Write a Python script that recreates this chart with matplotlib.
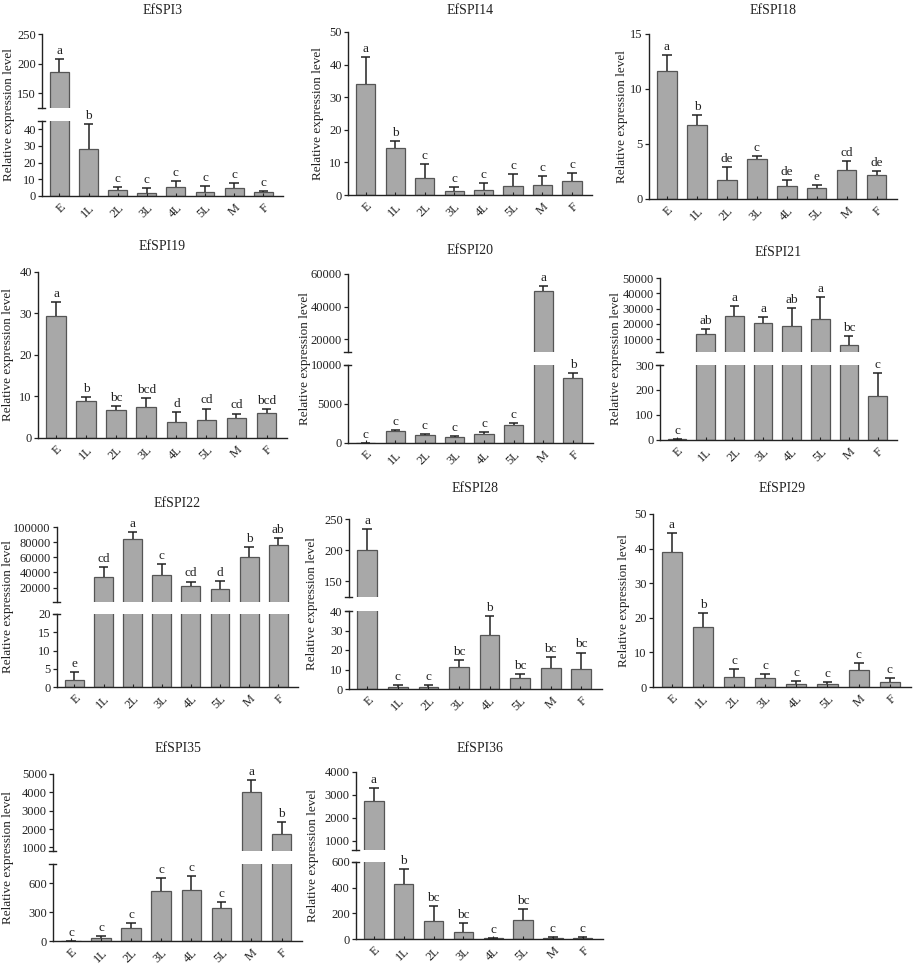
import matplotlib.pyplot as plt
import numpy as np

plt.rcParams['font.family'] = ['Liberation Serif', 'DejaVu Serif']

stages = ['E', '1L', '2L', '3L', '4L', '5L', 'M', 'F']

# mean, upper error, significance letters per gene
spi3_mean = [186, 28, 3.4, 1.8, 5.2, 2.4, 4.6, 2.2]
spi3_err = [22, 15, 1.8, 3.0, 3.6, 3.8, 3.0, 1.0]
spi3_sig = ['a', 'b', 'c', 'c', 'c', 'c', 'c', 'c']

spi14_mean = [34.0, 14.5, 5.1, 1.2, 1.5, 2.8, 3.0, 4.3]
spi14_err = [8.3, 2.1, 4.4, 1.3, 2.3, 3.6, 2.8, 2.5]
spi14_sig = ['a', 'b', 'c', 'c', 'c', 'c', 'c', 'c']

spi18_mean = [11.67, 6.7, 1.7, 3.6, 1.2, 0.97, 2.6, 2.2]
spi18_err = [1.43, 0.9, 1.2, 0.3, 0.55, 0.33, 0.85, 0.3]
spi18_sig = ['a', 'b', 'de', 'c', 'de', 'e', 'cd', 'de']

spi19_mean = [29.5, 9.0, 6.75, 7.5, 3.8, 4.4, 4.8, 6.0]
spi19_err = [3.3, 0.8, 0.95, 2.1, 2.4, 2.7, 1.1, 0.9]
spi19_sig = ['a', 'b', 'bc', 'bcd', 'd', 'cd', 'cd', 'bcd']

spi20_mean = [20, 1490, 1020, 766, 1150, 2340, 49280, 8380]
spi20_err = [5, 170, 130, 174, 210, 170, 3520, 640]
spi20_sig = ['c', 'c', 'c', 'c', 'c', 'c', 'a', 'b']

spi21_mean = [2, 13480, 25200, 20200, 18300, 23300, 5870, 176]
spi21_err = [2, 2820, 6300, 4400, 11900, 14100, 5830, 91]
spi21_sig = ['c', 'ab', 'a', 'a', 'ab', 'a', 'bc', 'c']

spi22_mean = [1.8, 34200, 84000, 37300, 22700, 18700, 60000, 76000]
spi22_err = [2.3, 13400, 9800, 13400, 5300, 10200, 13800, 9800]
spi22_sig = ['e', 'cd', 'a', 'c', 'cd', 'd', 'b', 'ab']

spi28_mean = [201, 0.85, 1.0, 11.4, 27.6, 5.4, 10.6, 10.4]
spi28_err = [33, 1.05, 0.9, 3.4, 9.8, 2.3, 5.9, 8.3]
spi28_sig = ['a', 'c', 'c', 'bc', 'b', 'bc', 'bc', 'bc']

spi29_mean = [38.9, 17.4, 2.9, 2.6, 0.96, 0.87, 5.0, 1.35]
spi29_err = [5.6, 4.1, 2.3, 1.25, 0.84, 0.48, 1.9, 1.35]
spi29_sig = ['a', 'b', 'c', 'c', 'c', 'c', 'c', 'c']

spi35_mean = [2, 31, 130, 518, 535, 343, 4018, 1709]
spi35_err = [1, 17, 59, 133, 140, 65, 655, 673]
spi35_sig = ['c', 'c', 'c', 'c', 'c', 'c', 'a', 'b']

spi36_mean = [2742, 426, 140, 55, 5, 148, 10, 9]
spi36_err = [571, 122, 115, 67, 3, 83, 4, 4]
spi36_sig = ['a', 'b', 'bc', 'bc', 'c', 'bc', 'c', 'c']

W, H = 913, 964
fig = plt.figure(figsize=(W / 100, H / 100), dpi=100)

TICK_FS = 9
BAR_COLOR = '#a8a8a8'
EDGE_COLOR = '#555555'
INK = '#222222'


def box(x0, x1, top, bottom):
    return [x0 / W, 1 - bottom / H, (x1 - x0) / W, (bottom - top) / H]


def draw_bars(ax, mean, err, ymin, ymax):
    mean = np.asarray(mean, float)
    err = np.asarray(err, float)
    x = np.arange(len(mean))
    keep = mean > ymin
    ax.bar(x[keep], mean[keep], width=0.65, color=BAR_COLOR,
           edgecolor=EDGE_COLOR, linewidth=0.9)
    cap = mean + err
    show = (cap > ymin) & (mean < ymax)
    ax.vlines(x[show], mean[show], cap[show], color=INK, lw=1.1)
    capped = show & (cap <= ymax)
    ax.hlines(cap[capped], x[capped] - 0.16, x[capped] + 0.16, color=INK, lw=1.1)
    ax.set_xlim(-0.6, 7.68)
    for s in ['top', 'right']:
        ax.spines[s].set_visible(False)
    for s in ['left', 'bottom']:
        ax.spines[s].set_linewidth(1.0)
        ax.spines[s].set_color(INK)
    ax.tick_params(axis='y', direction='out', length=3, width=0.9,
                   labelsize=TICK_FS, pad=1.5, colors=INK)


def break_mark(ax, where, px_width):
    d = 4.5 / px_width
    ax.plot([-d, d * 0.7], [where, where], transform=ax.transAxes,
            color=INK, lw=1.0, clip_on=False)


def panel(title, mean, err, sig, xr, title_y, label_x, lower, upper=None):
    x0, x1 = xr
    lt, lb, lmax, lticks = lower
    ax = fig.add_axes(box(x0, x1, lt, lb))
    draw_bars(ax, mean, err, 0, lmax)
    ax.set_ylim(0, lmax)
    ax.set_yticks(lticks)
    ax.set_xticks(np.arange(len(stages)))
    ax.set_xticklabels(stages, rotation=45, ha='right', rotation_mode='anchor',
                       fontsize=TICK_FS)
    ax.tick_params(axis='x', direction='in', length=2.5, width=0.8, pad=4,
                   colors=INK)
    top_px = lt
    axu = None
    if upper is not None:
        ut, ub, umin, umax, uticks = upper
        axu = fig.add_axes(box(x0, x1, ut, ub))
        draw_bars(axu, mean, err, umin, umax)
        axu.set_ylim(umin, umax)
        axu.set_yticks(uticks)
        axu.set_xticks([])
        axu.spines['bottom'].set_visible(False)
        break_mark(ax, 1, x1 - x0)
        break_mark(axu, 0, x1 - x0)
        top_px = ut
    for i, s in enumerate(sig):
        cap = mean[i] + err[i]
        target = axu if (axu is not None and cap > lmax) else ax
        target.annotate(s, (i, cap), xytext=(0, 1.5), textcoords='offset points',
                        ha='center', va='bottom', fontsize=9.5, color=INK)
    fig.text((x0 + x1) / 2 / W, 1 - title_y / H, title, ha='center', va='center',
             fontsize=10, color=INK)
    fig.text(label_x / W, 1 - (top_px + lb) / 2 / H, 'Relative expression level',
             rotation=90, ha='center', va='center', fontsize=9.5, color=INK)


panel('EfSPI3', spi3_mean, spi3_err, spi3_sig, (42, 283), 10, 9,
      (121, 196, 45, [0, 10, 20, 30, 40]), (34, 108, 125, 250, [150, 200, 250]))
panel('EfSPI14', spi14_mean, spi14_err, spi14_sig, (348, 592), 10, 318,
      (32, 195, 50, [0, 10, 20, 30, 40, 50]))
panel('EfSPI18', spi18_mean, spi18_err, spi18_sig, (649, 897), 10, 622,
      (34, 199, 15, [0, 5, 10, 15]))

panel('EfSPI19', spi19_mean, spi19_err, spi19_sig, (38, 287), 247, 8,
      (272, 438, 40, [0, 10, 20, 30, 40]))
panel('EfSPI20', spi20_mean, spi20_err, spi20_sig, (348, 593), 251, 305,
      (365, 443, 10000, [0, 5000, 10000]),
      (274, 352, 12000, 60000, [20000, 40000, 60000]))
panel('EfSPI21', spi21_mean, spi21_err, spi21_sig, (660, 897), 252, 616,
      (365, 440, 300, [0, 100, 200, 300]),
      (278, 352, 1500, 50000, [10000, 20000, 30000, 40000, 50000]))

panel('EfSPI22', spi22_mean, spi22_err, spi22_sig, (57, 298), 503, 8,
      (614, 687, 20, [0, 5, 10, 15, 20]),
      (527, 602, 1000, 100000, [20000, 40000, 60000, 80000, 100000]))
panel('EfSPI28', spi28_mean, spi28_err, spi28_sig, (349, 602), 489, 312,
      (611, 689, 40, [0, 10, 20, 30, 40]), (519, 597, 125, 250, [150, 200, 250]))
panel('EfSPI29', spi29_mean, spi29_err, spi29_sig, (653, 911), 489, 624,
      (514, 687, 50, [0, 10, 20, 30, 40, 50]))

panel('EfSPI35', spi35_mean, spi35_err, spi35_sig, (53, 302), 748, 8,
      (864, 941, 800, [0, 300, 600]),
      (774, 851, 800, 5000, [1000, 2000, 3000, 4000, 5000]))
panel('EfSPI36', spi36_mean, spi36_err, spi36_sig, (356, 603), 748, 313,
      (862, 939, 600, [0, 200, 400, 600]),
      (772, 850, 600, 4000, [1000, 2000, 3000, 4000]))

fig.savefig('out.png', dpi=100, facecolor='white')
